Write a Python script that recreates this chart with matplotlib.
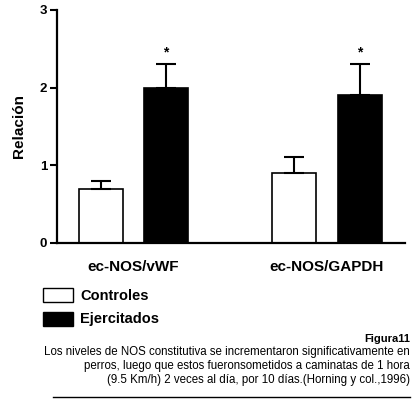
import matplotlib.pyplot as plt
from matplotlib.patches import Rectangle
from matplotlib.lines import Line2D
import numpy as np

plt.rcParams['font.family'] = ['Liberation Sans', 'DejaVu Sans']

# datos
grupos = ['ec-NOS/vWF', 'ec-NOS/GAPDH']
series = ['Controles', 'Ejercitados']
controles = [0.70, 0.90]
controles_err = [0.10, 0.21]
ejercitados = [2.00, 1.91]
ejercitados_err = [0.30, 0.39]
signif = ['*', '*']
yticks = [0, 1, 2, 3]

fig = plt.figure(figsize=(4.15, 3.99), dpi=100)
ax = fig.add_axes([0.137, 0.391, 0.839, 0.584])

x = np.arange(len(grupos))
w = 0.227
off = 0.168
ek = dict(elinewidth=1.5, capthick=1.5, ecolor='black')
ax.bar(x - off, controles, w, color='white', edgecolor='black', linewidth=1.2,
       yerr=[np.zeros(len(x)), controles_err], capsize=7.5, error_kw=ek)
ax.bar(x + off, ejercitados, w, color='black', edgecolor='black', linewidth=1.2,
       yerr=[np.zeros(len(x)), ejercitados_err], capsize=7.5, error_kw=ek)

for xi, v, e, s in zip(x + off, ejercitados, ejercitados_err, signif):
    ax.text(xi, v + e + 0.06, s, ha='center', va='bottom', fontsize=10, fontweight='bold')

ax.set_xlim(-0.395, 1.403)
ax.set_ylim(0, 3)
ax.set_yticks(yticks)
ax.set_xticks(x)
ax.set_xticklabels(grupos, fontsize=11, fontweight='bold')
ax.tick_params(axis='x', length=0, pad=12)
ax.tick_params(axis='y', length=5, width=1.5, labelsize=9.5, pad=2)
for t in ax.get_yticklabels():
    t.set_fontweight('bold')
for s in ['top', 'right']:
    ax.spines[s].set_visible(False)
for s in ['left', 'bottom']:
    ax.spines[s].set_linewidth(1.6)
ax.set_ylabel('Relación', fontsize=11, fontweight='bold', labelpad=10)

# leyenda
W, H = 415, 399
def fx(px):
    return px / W
def fy(py):
    return 1 - py / H

colores = ['white', 'black']
for i, (lab, c) in enumerate(zip(series, colores)):
    top = 288 + i * 24
    fig.add_artist(Rectangle((fx(43), fy(top + 14)), fx(30), 14 / H, facecolor=c,
                             edgecolor='black', linewidth=1, transform=fig.transFigure))
    fig.text(fx(80), fy(top + 7.5), lab, fontsize=10.5, fontweight='bold', va='center', ha='left')

# pie de figura
fig.text(fx(410), fy(339), 'Figura11', fontsize=8, fontweight='bold', ha='right', va='center')
caption = ('Los niveles de NOS constitutiva se incrementaron significativamente en\n'
           'perros, luego que estos fueronsometidos a caminatas de 1 hora\n'
           '(9.5 Km/h) 2 veces al día, por 10 días.(Horning y col.,1996)')
fig.text(fx(410), fy(366), caption, fontsize=8.3, ha='right', va='center',
         multialignment='right', linespacing=1.2)
fig.add_artist(Line2D([fx(53), fx(410)], [fy(397), fy(397)], color='black', linewidth=1,
                      transform=fig.transFigure))

fig.savefig('out.png', dpi=100)
